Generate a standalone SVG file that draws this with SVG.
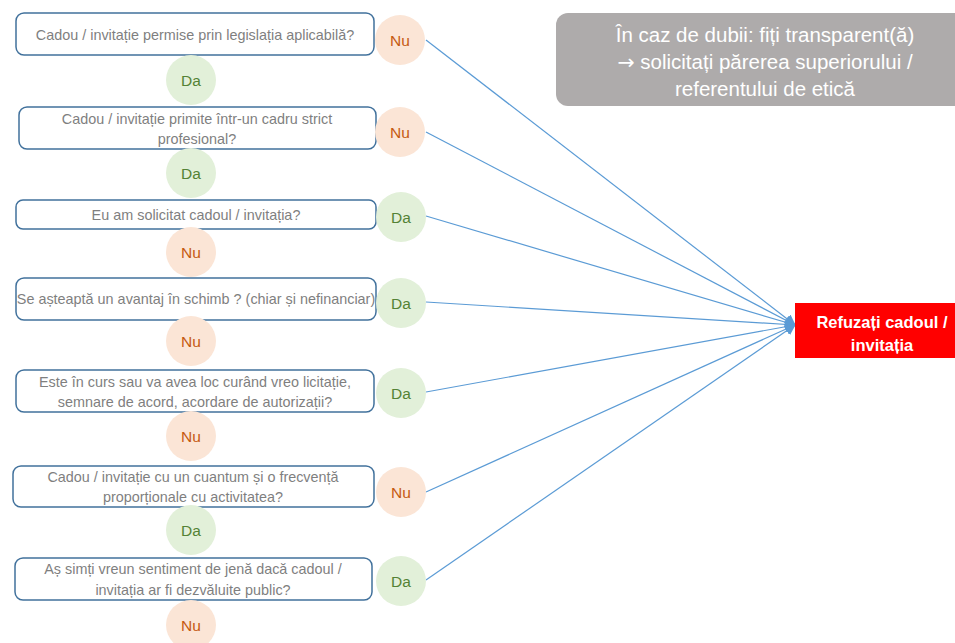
<svg xmlns="http://www.w3.org/2000/svg" width="955" height="643" viewBox="0 0 955 643">
<defs>
<marker id="ah" viewBox="0 0 10 10" refX="9" refY="5" markerWidth="11" markerHeight="11" markerUnits="userSpaceOnUse" orient="auto">
<path d="M0,0 L10,5 L0,10 z" fill="#5B9BD5"/>
</marker>
<style>
.q{fill:#fff;stroke:#41719C;stroke-width:1.5}
.qt{font-family:"Liberation Sans",Arial,sans-serif;font-size:14.4px;fill:#7F7F7F;text-anchor:middle}
.nu{fill:#FBE5D6}
.da{fill:#E2F0D9}
.nut{font-family:"Liberation Sans",Arial,sans-serif;font-size:15.5px;fill:#C55A11;text-anchor:middle}
.dat{font-family:"Liberation Sans",Arial,sans-serif;font-size:15.5px;fill:#548235;text-anchor:middle}
.c{stroke:#5B9BD5;stroke-width:1.2;fill:none;marker-end:url(#ah)}
</style>
</defs>
<rect width="955" height="643" fill="#fff"/>
<g id="connectors">
<line class="c" x1="426" y1="40" x2="795" y2="325"/>
<line class="c" x1="426" y1="132" x2="795" y2="325"/>
<line class="c" x1="426" y1="216" x2="795" y2="325"/>
<line class="c" x1="426" y1="302" x2="795" y2="325"/>
<line class="c" x1="426" y1="392" x2="795" y2="325"/>
<line class="c" x1="426" y1="492" x2="795" y2="325"/>
<line class="c" x1="426" y1="580" x2="795" y2="325"/>
</g>
<g id="q1"><rect class="q" x="16" y="13" width="358" height="42" rx="8"/><text class="qt" x="195" y="40">Cadou / invitație permise prin legislația aplicabilă?</text></g>
<g id="q1-nu"><circle class="nu" cx="400" cy="40" r="25"/><text class="nut" x="400" y="45.5">Nu</text></g>
<g id="q1-da"><circle class="da" cx="191" cy="80" r="25"/><text class="dat" x="191" y="85.5">Da</text></g>
<g id="q2"><rect class="q" x="19" y="107" width="357" height="42" rx="8"/><text class="qt" x="197" y="124">Cadou / invitație primite într-un cadru strict</text><text class="qt" x="197" y="144">profesional?</text></g>
<g id="q2-nu"><circle class="nu" cx="400" cy="132" r="25"/><text class="nut" x="400" y="137.5">Nu</text></g>
<g id="q2-da"><circle class="da" cx="191" cy="173" r="25"/><text class="dat" x="191" y="178.5">Da</text></g>
<g id="q3"><rect class="q" x="16" y="200" width="360" height="29" rx="7"/><text class="qt" x="196" y="220">Eu am solicitat cadoul / invitația?</text></g>
<g id="q3-da"><circle class="da" cx="401" cy="217" r="25"/><text class="dat" x="401" y="222.5">Da</text></g>
<g id="q3-nu"><circle class="nu" cx="191" cy="252" r="25"/><text class="nut" x="191" y="257.5">Nu</text></g>
<g id="q4"><rect class="q" x="16" y="278" width="360" height="42" rx="8"/><text class="qt" x="196" y="304">Se așteaptă un avantaj în schimb ? (chiar și nefinanciar)</text></g>
<g id="q4-da"><circle class="da" cx="401" cy="303" r="25"/><text class="dat" x="401" y="308.5">Da</text></g>
<g id="q4-nu"><circle class="nu" cx="191" cy="341" r="25"/><text class="nut" x="191" y="346.5">Nu</text></g>
<g id="q5"><rect class="q" x="16" y="370" width="358" height="42" rx="8"/><text class="qt" x="195" y="387">Este în curs sau va avea loc curând vreo licitație,</text><text class="qt" x="195" y="407">semnare de acord, acordare de autorizații?</text></g>
<g id="q5-da"><circle class="da" cx="401" cy="393" r="25"/><text class="dat" x="401" y="398.5">Da</text></g>
<g id="q5-nu"><circle class="nu" cx="191" cy="436" r="25"/><text class="nut" x="191" y="441.5">Nu</text></g>
<g id="q6"><rect class="q" x="13" y="466" width="361" height="41" rx="8"/><text class="qt" x="193" y="482">Cadou / invitație cu un cuantum și o frecvență</text><text class="qt" x="193" y="502">proporționale cu activitatea?</text></g>
<g id="q6-nu"><circle class="nu" cx="401" cy="492" r="25"/><text class="nut" x="401" y="497.5">Nu</text></g>
<g id="q6-da"><circle class="da" cx="191" cy="530" r="25"/><text class="dat" x="191" y="535.5">Da</text></g>
<g id="q7"><rect class="q" x="15" y="558" width="357" height="42" rx="8"/><text class="qt" x="193" y="574">Aș simți vreun sentiment de jenă dacă cadoul /</text><text class="qt" x="193" y="595">invitația ar fi dezvăluite public?</text></g>
<g id="q7-da"><circle class="da" cx="401" cy="581" r="25"/><text class="dat" x="401" y="586.5">Da</text></g>
<g id="q7-nu"><circle class="nu" cx="191" cy="625" r="25"/><text class="nut" x="191" y="630.5">Nu</text></g>
<g id="note"><rect x="556" y="13" width="420" height="93" rx="12" fill="#AEABAB"/>
<g font-family="'Liberation Sans',Arial,sans-serif" font-size="20.5px" fill="#fff" text-anchor="middle">
<text x="765" y="42">În caz de dubii: fiți transparent(ă)</text>
<text x="765" y="69"><tspan font-family="'DejaVu Sans',sans-serif">→</tspan> solicitați părerea superiorului /</text>
<text x="765" y="96">referentului de etică</text>
</g></g>
<g id="refuse"><rect x="795" y="303" width="160" height="55" fill="#FF0000"/>
<g font-family="'Liberation Sans',Arial,sans-serif" font-size="16.5px" font-weight="bold" fill="#fff" text-anchor="middle">
<text x="882" y="328">Refuzați cadoul /</text>
<text x="882" y="351">invitația</text>
</g></g>
</svg>
